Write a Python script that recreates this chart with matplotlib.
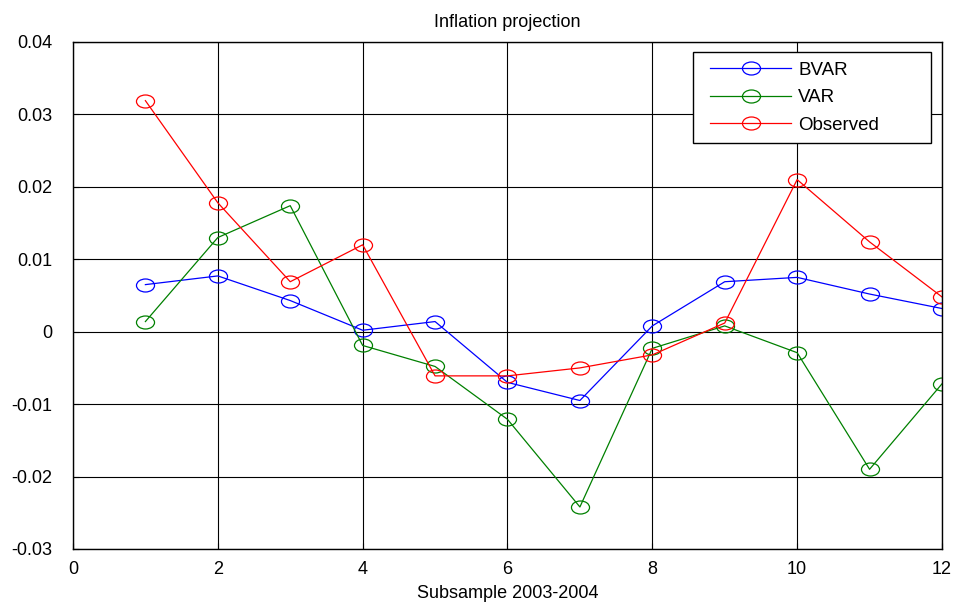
import numpy as np
import matplotlib.pyplot as plt
from matplotlib.path import Path
from matplotlib.transforms import Affine2D
from matplotlib.lines import Line2D
from matplotlib.legend_handler import HandlerLine2D

plt.rcParams['font.family'] = ['Liberation Sans', 'DejaVu Sans']

# Data
steps = [1, 2, 3, 4, 5, 6, 7, 8, 9, 10, 11, 12]
bvar = [0.0065, 0.0077, 0.0043, 0.0002, 0.0014, -0.0070, -0.0095, 0.0008, 0.0069, 0.0075, 0.0052, 0.0032]
var = [0.0014, 0.0130, 0.0174, -0.0019, -0.0048, -0.0121, -0.0242, -0.0023, 0.0008, -0.0029, -0.0190, -0.0072]
observed = [0.0319, 0.0178, 0.0069, 0.0120, -0.0061, -0.0061, -0.0050, -0.0032, 0.0012, 0.0210, 0.0124, 0.0048]

# flattened circle marker like the original
ellipse = Path.unit_circle().transformed(Affine2D().scale(1.0, 0.72))

fig = plt.figure(figsize=(9.54, 6.05), dpi=100)
ax = fig.add_axes([0.0765, 0.0926, 0.9109, 0.838])

for vals, col, lab in [(bvar, 'blue', 'BVAR'), (var, 'green', 'VAR'), (observed, 'red', 'Observed')]:
    ax.plot(steps, vals, color=col, lw=0.9, marker=ellipse, markersize=13,
            markerfacecolor='none', markeredgecolor=col, markeredgewidth=0.9, label=lab)

ax.set_xlim(0, 12)
ax.set_ylim(-0.03, 0.04)
ax.set_xticks(range(0, 13, 2))
ax.set_yticks(np.arange(-0.03, 0.041, 0.01))
ax.set_yticklabels(['-0.03', '-0.02', '-0.01', '0', '0.01', '0.02', '0.03', '0.04'])
ax.tick_params(direction='in', length=4, width=0.8, labelsize=13)
ax.tick_params(axis='y', pad=15)
ax.tick_params(axis='x', pad=9)
ax.grid(True, color='black', lw=0.8)
for s in ax.spines.values():
    s.set_linewidth(1.0)

ax.set_title('Inflation projection', fontsize=13, pad=11)
ax.set_xlabel('Subsample 2003-2004', fontsize=13, labelpad=5)

# legend box is wider than its content, handles set in a little from the left
leg = ax.legend(loc='upper left', fontsize=13.5, fancybox=False, framealpha=1,
                edgecolor='black', handlelength=4.75, handletextpad=0.35,
                borderpad=0.5, borderaxespad=0, labelspacing=0.56,
                mode='expand', bbox_to_anchor=(0.7135, 0.8047, 0.274, 0.1755),
                handler_map={Line2D: HandlerLine2D(xpad=0.43)})
leg.get_frame().set_linewidth(1.0)

fig.savefig('out.png', dpi=100)
